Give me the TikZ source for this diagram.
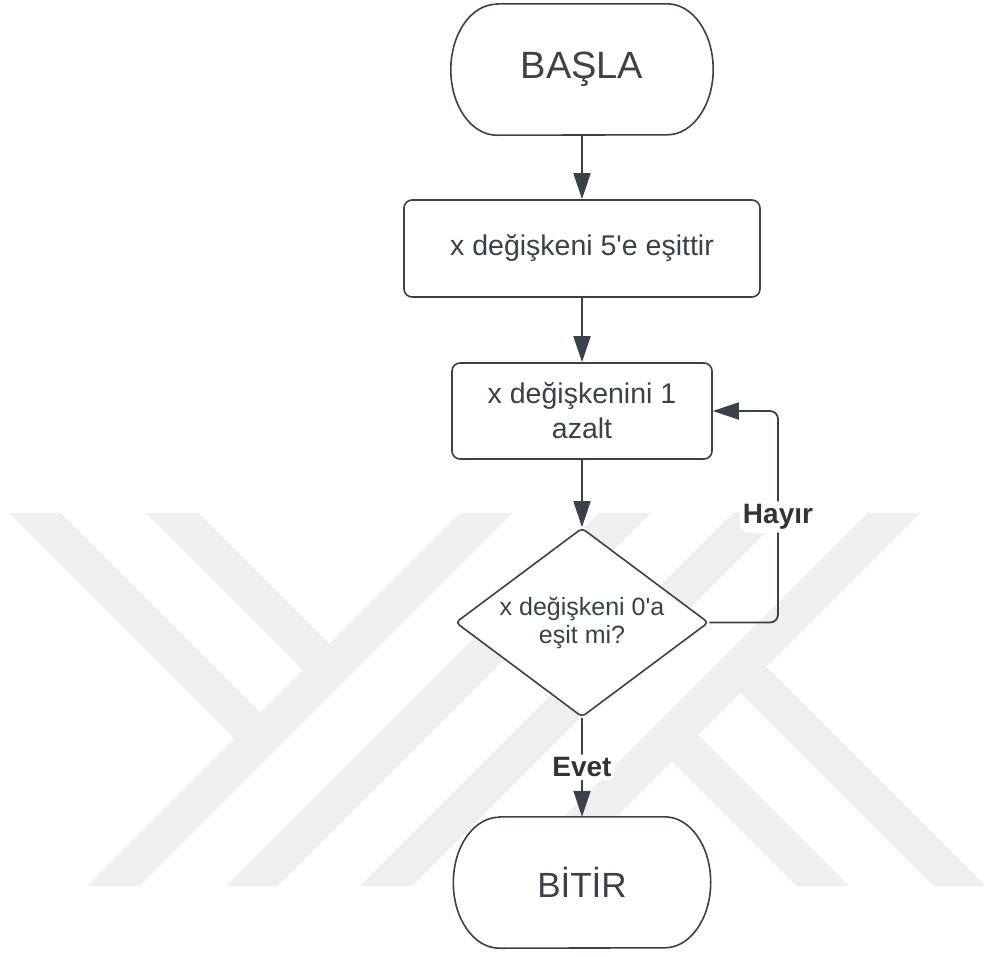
\documentclass[tikz,border=0pt]{standalone}
\usepackage{fontspec}
\setmainfont{Liberation Sans}
\usetikzlibrary{arrows.meta,shapes.geometric}
\definecolor{ink}{RGB}{58,65,74}
\definecolor{labelink}{RGB}{51,51,51}
\definecolor{markgray}{RGB}{239,239,239}

\begin{document}
\begin{tikzpicture}[x=1pt,y=-1pt,
  box/.style={draw=ink, line width=1.6pt, fill=white, rounded corners=8pt,
    inner sep=0pt, align=center, text=ink, font=\fontsize{28.5}{35}\selectfont},
  termtext/.style={inner sep=0pt, text=ink},
  termline/.style={draw=ink, fill=white, line width=1.6pt},
  decision/.style={diamond, draw=ink, line width=1.6pt, fill=white,
    rounded corners=4pt, inner sep=0pt, aspect=1.339, align=center,
    text=ink, font=\fontsize{25}{28}\selectfont},
  flow/.style={draw=ink, line width=1.8pt, rounded corners=8pt,
    -{Triangle[length=26pt,width=17pt]}},
  tag/.style={fill=white, text=labelink, inner sep=3pt,
    font=\bfseries\fontsize{28}{32}\selectfont},
  band/.style={draw=markgray, line width=37pt}
]
\useasboundingbox (0,0) rectangle (984,956);

% pale diagonal stripes in the background
\begin{scope}
  \clip (0,513) rectangle (984,885);
  \draw[band] (519.5,480) -- (79.5,920);
  \draw[band] (658,480) -- (218,920);
  \draw[band] (792,480) -- (352,920);
  \draw[band] (927,480) -- (487,920);
  \draw[band] (2,480) -- (260.75,738.75);
  \draw[band] (139,480) -- (329.25,670.25);
  \draw[band] (740.25,666.75) -- (993.5,920);
  \draw[band] (672,735) -- (857,920);
\end{scope}

% start terminal
\node[termtext, minimum width=262pt, minimum height=131pt] (start) at (582,69.5) {};
\filldraw[termline] ([xshift=46pt]start.north west) -- ([xshift=-46pt]start.north east)
  arc[start angle=90, end angle=-90, x radius=46pt, y radius=65.5pt]
  -- ([xshift=46pt]start.south west)
  arc[start angle=270, end angle=90, x radius=46pt, y radius=65.5pt] -- cycle;
\node[termtext, font=\fontsize{38}{44}\selectfont] at (start) {BAŞLA};

% process steps
\node[box, minimum width=356pt, minimum height=97pt] (init) at (582,248.5) {x değişkeni 5\textquotesingle e eşittir};
\node[box, minimum width=260pt, minimum height=96pt] (act) at (582,411) {x değişkenini 1\\azalt};

% decision
\node[decision, minimum width=253pt, minimum height=189pt] (dec) at (582,622.5) {x değişkeni 0\textquotesingle a\\eşit mi?};

% end terminal
\node[termtext, minimum width=257pt, minimum height=131pt] (stop) at (582,882.5) {};
\filldraw[termline] ([xshift=46pt]stop.north west) -- ([xshift=-46pt]stop.north east)
  arc[start angle=90, end angle=-90, x radius=46pt, y radius=65.5pt]
  -- ([xshift=46pt]stop.south west)
  arc[start angle=270, end angle=90, x radius=46pt, y radius=65.5pt] -- cycle;
\node[termtext, font=\fontsize{35}{41}\selectfont] at (stop) {BİTİR};

% connectors
\coordinate (loop) at (778,517);
\draw[flow] (start.south) -- (init.north);
\draw[flow] (init.south) -- (act.north);
\draw[flow] (act.south) -- (dec.north);
\draw[flow] (dec.east) -| (loop) node[tag] {Hayır} |- (act.east);
\draw[flow] (dec.south) -- node[tag] {Evet} (stop.north);
\end{tikzpicture}
\end{document}
